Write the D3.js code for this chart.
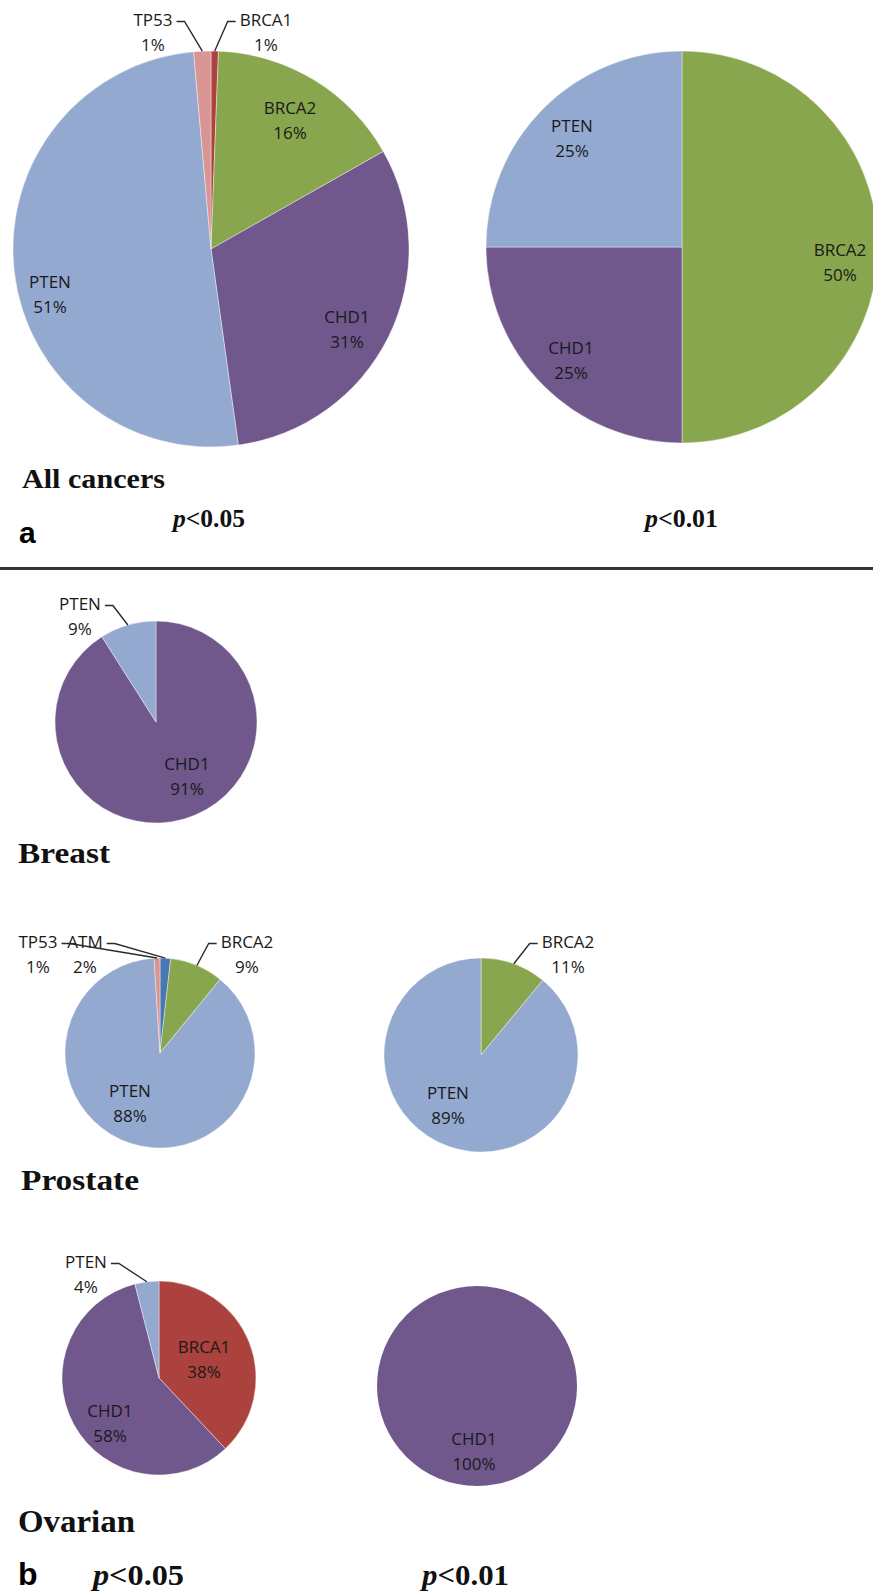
<!DOCTYPE html>
<html>
<head>
<meta charset="utf-8">
<script src="https://cdn.jsdelivr.net/npm/d3@7"></script>
<style>
  html, body { margin: 0; padding: 0; background: #ffffff; }
  svg { display: block; }
</style>
</head>
<body>
<script>
// Gene shares (%) per tissue and significance threshold
const genesAllP05 = ["BRCA1", "BRCA2", "CHD1", "PTEN", "TP53"];
const pctAllP05 = [0.6, 16.2, 31.0, 50.8, 1.4];

const genesAllP01 = ["BRCA2", "CHD1", "PTEN"];
const pctAllP01 = [50, 25, 25];

const genesBreastP05 = ["CHD1", "PTEN"];
const pctBreastP05 = [91, 9];

const genesProstateP05 = ["ATM", "BRCA2", "PTEN", "TP53"];
const pctProstateP05 = [1.8, 9.1, 88.1, 1.0];

const genesProstateP01 = ["BRCA2", "PTEN"];
const pctProstateP01 = [11, 89];

const genesOvarianP05 = ["BRCA1", "CHD1", "PTEN"];
const pctOvarianP05 = [38, 58, 4];

const genesOvarianP01 = ["CHD1"];
const pctOvarianP01 = [100];

const geneColors = {
  PTEN: "#93a9cf",
  CHD1: "#70578c",
  BRCA2: "#88a64d",
  BRCA1: "#ab423d",
  TP53: "#d99594",
  ATM: "#4a76b2"
};

// Pie placement and label offsets (relative to pie centre); third flag = leader line
const panels = [
  { genes: genesAllP05, pct: pctAllP05, cx: 211, cy: 249, r: 198,
    labels: { BRCA1: [55, -216, true], BRCA2: [79, -128], CHD1: [136, 81], PTEN: [-161, 46], TP53: [-58, -216, true] } },
  { genes: genesAllP01, pct: pctAllP01, cx: 682, cy: 247, r: 196,
    labels: { BRCA2: [158, 16], CHD1: [-111, 114], PTEN: [-110, -108] } },
  { genes: genesBreastP05, pct: pctBreastP05, cx: 156, cy: 722, r: 101,
    labels: { CHD1: [31, 55], PTEN: [-76, -105, true] } },
  { genes: genesProstateP05, pct: pctProstateP05, cx: 160, cy: 1053, r: 95,
    labels: { ATM: [-75, -98, true], BRCA2: [87, -98, true], PTEN: [-30, 51], TP53: [-122, -98, true] } },
  { genes: genesProstateP01, pct: pctProstateP01, cx: 481, cy: 1055, r: 97,
    labels: { BRCA2: [87, -100, true], PTEN: [-33, 51] } },
  { genes: genesOvarianP05, pct: pctOvarianP05, cx: 159, cy: 1378, r: 97,
    labels: { BRCA1: [45, -18], CHD1: [-49, 46], PTEN: [-73, -103, true] } },
  { genes: genesOvarianP01, pct: pctOvarianP01, cx: 477, cy: 1386, r: 100,
    labels: { CHD1: [-3, 66] } }
];

const W = 873, H = 1594;
const svg = d3.select("body").append("svg")
  .attr("width", W).attr("height", H)
  .attr("viewBox", `0 0 ${W} ${H}`);

const pie = d3.pie().sort(null).value(d => d.pct);
const fmtPct = v => d3.format(".0f")(v) + "%";
const LINE_GAP = 25;

panels.forEach(p => {
  const rows = p.genes.map((g, i) => ({ gene: g, pct: p.pct[i] }));
  const arcs = pie(rows);
  const arc = d3.arc().innerRadius(0).outerRadius(p.r);
  const g = svg.append("g").attr("transform", `translate(${p.cx},${p.cy})`);

  g.selectAll("path.slice").data(arcs).join("path")
    .attr("class", "slice")
    .attr("d", arc)
    .attr("fill", d => geneColors[d.data.gene])
    .attr("stroke", arcs.length > 1 ? "rgba(255,255,255,0.4)" : "none")
    .attr("stroke-width", 1);

  arcs.forEach(a => {
    const lab = p.labels[a.data.gene];
    if (!lab) return;
    const [lx, ly, leader] = lab;
    const t = g.append("text")
      .attr("text-anchor", "middle")
      .attr("font-family", "'Open Sans', 'Noto Sans', sans-serif")
      .attr("font-size", 17)
      .attr("fill", "#1a1a1a");
    const t1 = t.append("tspan").attr("x", lx).attr("y", ly - LINE_GAP / 2).attr("dy", "0.35em").text(a.data.gene);
    t.append("tspan").attr("x", lx).attr("y", ly + LINE_GAP / 2).attr("dy", "0.35em").text(fmtPct(a.data.pct));

    if (leader) {
      const mid = (a.startAngle + a.endAngle) / 2;
      const px = p.r * Math.sin(mid), py = -p.r * Math.cos(mid);
      const w = t1.node().getComputedTextLength();
      const y1 = ly - LINE_GAP / 2 + 1;
      let x0, x1;
      if (lx < px) { x0 = lx + w / 2 + 4; x1 = x0 + 8; }
      else { x0 = lx - w / 2 - 4; x1 = x0 - 8; }
      g.append("path")
        .attr("d", d3.line()([[x0, y1], [x1, y1], [px, py]]))
        .attr("fill", "none")
        .attr("stroke", "#2b2b2b")
        .attr("stroke-width", 1.4);
    }
  });
});

// Section headings and threshold captions
const serif = "'Liberation Serif', 'Times New Roman', serif";
const sans = "'Liberation Sans', Arial, sans-serif";

const headings = [
  { text: "All cancers", x: 22, y: 488, size: 27, len: 143 },
  { text: "Breast", x: 18, y: 863, size: 30, len: 92 },
  { text: "Prostate", x: 21, y: 1190, size: 30, len: 118 },
  { text: "Ovarian", x: 18, y: 1532, size: 31, len: 117 }
];
headings.forEach(h => {
  svg.append("text")
    .attr("x", h.x).attr("y", h.y)
    .attr("font-family", serif).attr("font-weight", "bold")
    .attr("font-size", h.size).attr("fill", "#111")
    .attr("textLength", h.len).attr("lengthAdjust", "spacingAndGlyphs")
    .text(h.text);
});

const panelLetters = [
  { text: "a", x: 19, y: 543, size: 30 },
  { text: "b", x: 18, y: 1585, size: 32 }
];
panelLetters.forEach(l => {
  svg.append("text")
    .attr("x", l.x).attr("y", l.y)
    .attr("font-family", sans).attr("font-weight", "bold")
    .attr("font-size", l.size).attr("fill", "#000")
    .text(l.text);
});

const thresholds = [
  { val: "<0.05", x: 173, y: 527, size: 25, len: 72 },
  { val: "<0.01", x: 645, y: 527, size: 25, len: 73 },
  { val: "<0.05", x: 93, y: 1585, size: 29, len: 91 },
  { val: "<0.01", x: 422, y: 1585, size: 29, len: 87 }
];
thresholds.forEach(c => {
  const t = svg.append("text")
    .attr("x", c.x).attr("y", c.y)
    .attr("font-family", serif).attr("font-weight", "bold")
    .attr("font-size", c.size).attr("fill", "#111")
    .attr("textLength", c.len).attr("lengthAdjust", "spacingAndGlyphs");
  t.append("tspan").attr("font-style", "italic").text("p");
  t.append("tspan").text(c.val);
});

// Divider between panels a and b
svg.append("line")
  .attr("x1", 0).attr("x2", W)
  .attr("y1", 568.5).attr("y2", 568.5)
  .attr("stroke", "#333").attr("stroke-width", 3);
</script>
</body>
</html>
